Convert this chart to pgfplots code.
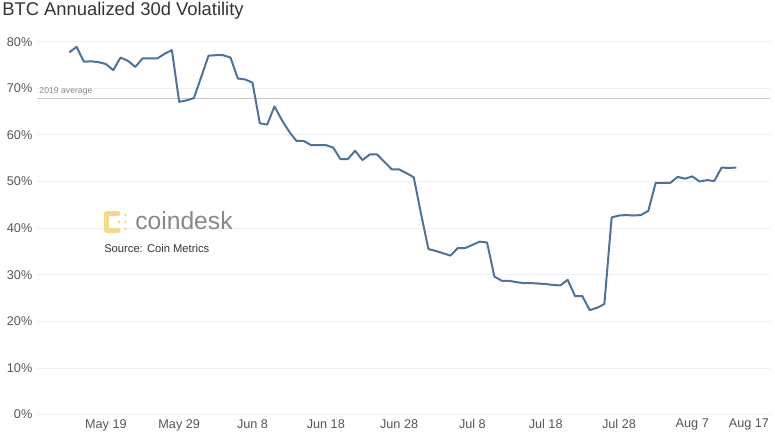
\documentclass[border=0pt]{standalone}
\usepackage{pgfplots}
\pgfplotsset{compat=1.18}
\usepackage{fontspec}
\setmainfont{Liberation Sans}
\definecolor{linec}{HTML}{4F7396}
\definecolor{gridc}{HTML}{EFEFEF}
\definecolor{avgc}{HTML}{C8C8C8}
\definecolor{tickc}{HTML}{555555}
\definecolor{titlec}{HTML}{333333}
\definecolor{logoy}{HTML}{F6D88C}
\definecolor{logog}{HTML}{888888}
\begin{document}
\begin{tikzpicture}
\path (-27.75pt,-13.875pt) rectangle (553.5pt,310.875pt);
\begin{axis}[
  at={(0,0)}, anchor=south west,
  scale only axis,
  width=549.75pt, height=286.6pt,
  xmin=-9.4, xmax=90.6,
  ymin=0, ymax=82,
  axis line style={draw=none},
  major tick length=0pt,
  ymajorgrids,
  grid style={gridc, line width=0.6pt},
  ytick={0,10,...,80},
  yticklabel={\pgfmathprintnumber{\tick}\%},
  xtick={0,10,20,30,40,50,60,70,80},
  xticklabels={May 19,May 29,Jun 8,Jun 18,Jun 28,Jul 8,Jul 18,Jul 28,Aug 7},
  extra x ticks={90},
  extra x tick labels={Aug 17},
  extra x tick style={tick label style={xshift=-12.5pt}},
  tick label style={font=\fontsize{9.5}{11}\selectfont, text=tickc},
  /pgf/number format/assume math mode=true,
  clip=false,
]
\addplot[avgc, line width=1.4pt, forget plot] coordinates {(-9.4,67.8) (90.6,67.8)};
\node[anchor=south west, inner sep=0pt, font=\fontsize{6.5}{7}\selectfont, text=logog] at (axis cs:-9.1,68.4) {2019 average};
\addplot[linec, line width=1.5pt, line join=round] coordinates {
(-5,77.7) (-4,78.9) (-3,75.7) (-2,75.8) (-1,75.6) (0,75.2) (1,73.9) (2,76.6)
(3,75.9) (4,74.6) (5,76.4) (6,76.4) (7,76.4) (8,77.4) (9,78.2) (10,67.1)
(11,67.4) (12,67.9) (13,72.4) (14,77.0) (15,77.1) (16,77.1) (17,76.6) (18,72.1)
(19,71.9) (20,71.2) (21,62.5) (22,62.2) (23,66.1) (24,63.2) (25,60.7) (26,58.7)
(27,58.7) (28,57.8) (29,57.8) (30,57.8) (31,57.3) (32,54.8) (33,54.8) (34,56.6)
(35,54.6) (36,55.8) (37,55.8) (38,54.2) (39,52.6) (40,52.6) (41,51.8) (42,50.9)
(43,43.0) (44,35.5) (45,35.1) (46,34.6) (47,34.1) (48,35.7) (49,35.7) (50,36.4)
(51,37.1) (52,36.9) (53,29.6) (54,28.7) (55,28.7) (56,28.4) (57,28.2) (58,28.2)
(59,28.1) (60,28.0) (61,27.8) (62,27.7) (63,28.9) (64,25.4) (65,25.4) (66,22.4)
(67,22.9) (68,23.7) (69,42.3) (70,42.7) (71,42.8) (72,42.7) (73,42.8) (74,43.7)
(75,49.7) (76,49.7) (77,49.7) (78,51.0) (79,50.6) (80,51.1) (81,50.0) (82,50.3)
(83,50.1) (84,53.0) (85,52.9) (86,53.0)
};
\end{axis}
\begin{scope}[shift={(-27.75pt,310.875pt)}, x=0.75pt, y=-0.75pt]
\node[anchor=north west, inner sep=0pt, font=\fontsize{13.8}{16}\selectfont, text=titlec] at (2,2) {BTC Annualized 30d Volatility};
% logo
\draw[logoy, line width=3.6pt, line cap=round, line join=round] (118,213.5) -- (106.5,213.5) -- (106.5,230.5) -- (118,230.5);
\fill[logoy] (119,222) circle (1.5) (125.5,215) circle (1.4) (125.5,222) circle (1.4) (125.5,229) circle (1.4);
\node[anchor=west, inner sep=0pt, font=\fontsize{18.5}{20}\selectfont, text=logog] at (135,220.5) {coindesk};
\node[anchor=west, inner sep=0pt, font=\fontsize{8.4}{10}\selectfont, text=titlec] at (104,248) {Source: Coin Metrics};
\end{scope}
\end{tikzpicture}
\end{document}
